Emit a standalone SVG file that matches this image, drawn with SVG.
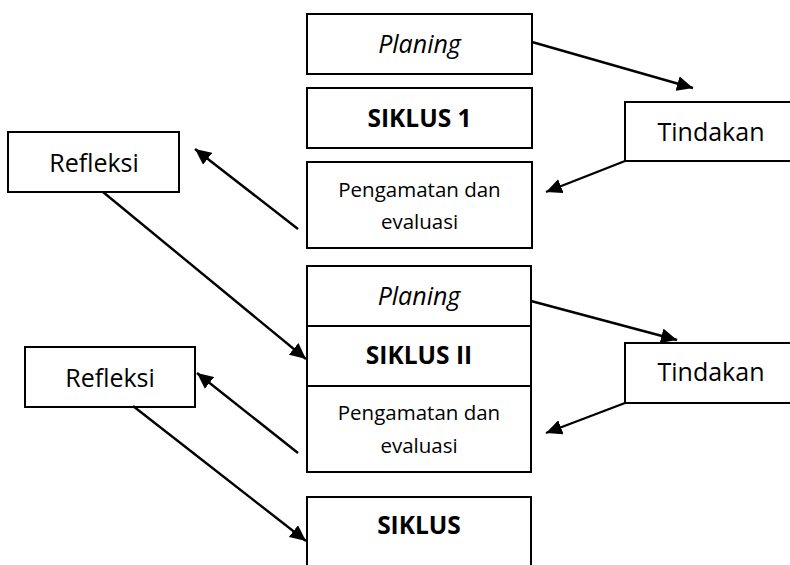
<svg xmlns="http://www.w3.org/2000/svg" width="790" height="565" viewBox="0 0 790 565">
<style>
.box{fill:#fff;stroke:#000;stroke-width:2}
.t{font-family:"Open Sans","Liberation Sans",sans-serif;font-size:25px;fill:#000;text-anchor:middle}
.it{font-style:italic}
.b{font-weight:bold;font-size:24.5px}
.s{font-size:20.5px}
.c{stroke:#000;stroke-width:2.4;fill:none;marker-end:url(#ah)}
</style>
<defs>
<marker id="ah" markerUnits="userSpaceOnUse" markerWidth="17" markerHeight="15" refX="16" refY="7.5" orient="auto">
<path d="M0,0 L16,7.5 L0,15 z" fill="#000"/>
</marker>
</defs>
<rect width="790" height="565" fill="#fff"/>
<g id="planing1"><rect class="box" x="307" y="14" width="225" height="60"/><text class="t it" x="419.5" y="53">Planing</text></g>
<g id="siklus1"><rect class="box" x="307" y="88" width="225" height="60"/><text class="t b" x="419.5" y="127">SIKLUS 1</text></g>
<g id="pengamatan1"><rect class="box" x="307" y="162" width="225" height="86"/><text class="t s" x="419.5" y="197">Pengamatan dan</text><text class="t s" x="419.5" y="229">evaluasi</text></g>
<g id="tindakan1"><path class="box" d="M792,102 H625 V161 H792"/><text class="t" x="711" y="141">Tindakan</text></g>
<g id="refleksi1"><rect class="box" x="8" y="132" width="171" height="60"/><text class="t" x="94" y="172">Refleksi</text></g>
<g id="planing2"><rect class="box" x="307" y="266" width="224" height="60"/><text class="t it" x="419" y="305">Planing</text></g>
<g id="siklus2"><rect class="box" x="307" y="326" width="224" height="60"/><text class="t b" x="419" y="364">SIKLUS II</text></g>
<g id="pengamatan2"><rect class="box" x="307" y="386" width="224" height="86"/><text class="t s" x="419" y="420">Pengamatan dan</text><text class="t s" x="419" y="453">evaluasi</text></g>
<g id="tindakan2"><path class="box" d="M792,343 H625 V403 H792"/><text class="t" x="711" y="381">Tindakan</text></g>
<g id="refleksi2"><rect class="box" x="25" y="347" width="170" height="60"/><text class="t" x="110" y="387">Refleksi</text></g>
<g id="siklus3"><path class="box" d="M307,567 V497 H531 V567"/><text class="t b" x="419" y="534">SIKLUS</text></g>
<g id="connectors">
<line class="c" x1="532" y1="42" x2="693" y2="88"/>
<line class="c" x1="625" y1="161" x2="546" y2="192"/>
<line class="c" x1="298" y1="229" x2="195" y2="149"/>
<line class="c" x1="103" y1="192" x2="306" y2="359"/>
<line class="c" x1="531" y1="301" x2="677" y2="340"/>
<line class="c" x1="625" y1="403" x2="546" y2="433"/>
<line class="c" x1="298" y1="453" x2="197" y2="373"/>
<line class="c" x1="133" y1="406" x2="306" y2="541"/>
</g>
</svg>
